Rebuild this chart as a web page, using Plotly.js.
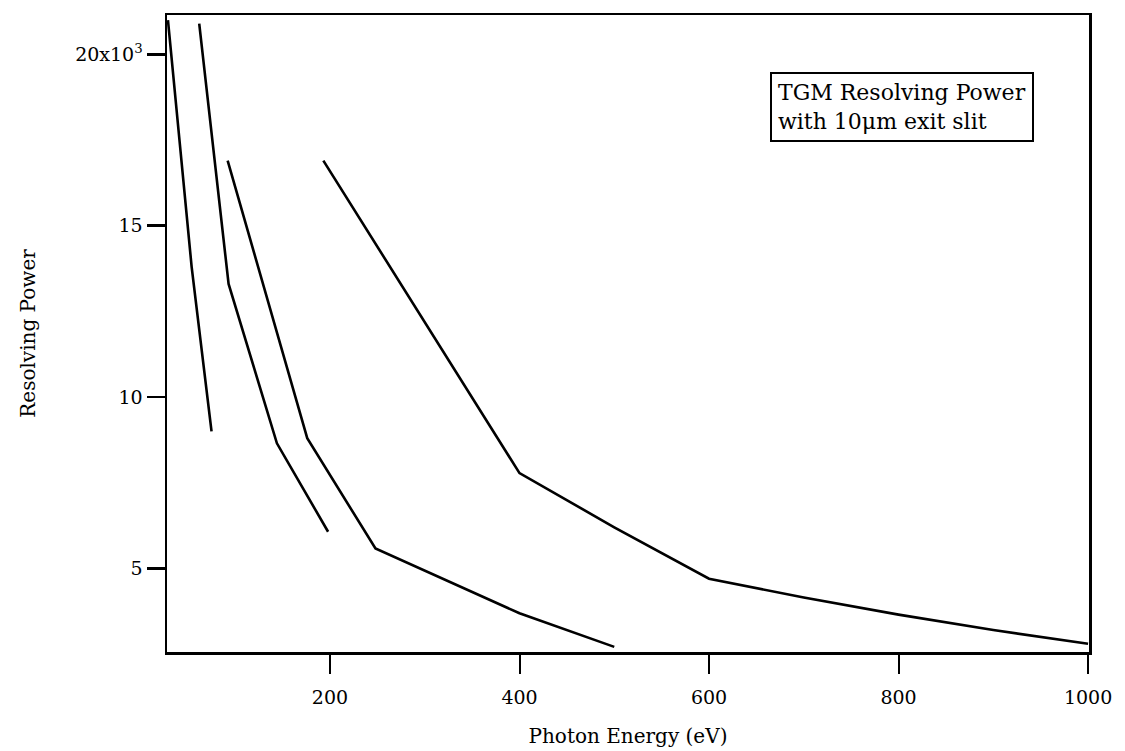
<!DOCTYPE html>
<html>
<head>
<meta charset="utf-8">
<script src="https://cdn.plot.ly/plotly-3.0.1.min.js"></script>
<style>html,body{margin:0;padding:0;background:#fff;}#chart{width:1125px;height:751px;}</style>
</head>
<body>
<div id="chart"></div>
<script>
// Photon energy (eV) and resolving power for the four curves
const energyA = [29, 54, 75];
const powerA  = [21000, 13800, 9000];
const energyB = [62, 93, 144, 198];
const powerB  = [20900, 13300, 8650, 6070];
const energyC = [92, 176, 248, 400, 500];
const powerC  = [16900, 8800, 5580, 3690, 2710];
const energyD = [193, 400, 500, 600, 700, 800, 900, 1000];
const powerD  = [16900, 7780, 6200, 4700, 4150, 3650, 3200, 2800];

const yTickVals = [5000, 10000, 15000, 20000];
const yTickText = ["5", "10", "15", "20x10<sup>3</sup>"];
const xTickVals = [200, 400, 600, 800, 1000];

const font = "DejaVu Serif, Liberation Serif, serif";
const lineStyle = {color: "#000", width: 2.6};

const traces = [
  {x: energyA, y: powerA}, {x: energyB, y: powerB},
  {x: energyC, y: powerC}, {x: energyD, y: powerD}
].map(t => Object.assign(t, {type: "scatter", mode: "lines", line: lineStyle, showlegend: false, hoverinfo: "skip"}));

const layout = {
  width: 1125, height: 751,
  paper_bgcolor: "#fff", plot_bgcolor: "#fff",
  margin: {l: 167, r: 36, t: 15, b: 99},
  font: {family: font, color: "#000", size: 20},
  xaxis: {
    range: [28, 1001], tickvals: xTickVals, ticks: "outside", ticklen: 19, tickwidth: 2,
    tickcolor: "#000", showline: true, linewidth: 2.5, linecolor: "#000", mirror: true,
    showgrid: false, zeroline: false, tickfont: {family: font, size: 19}, ticklabelstandoff: 8,
    title: {text: "Photon Energy (eV)", font: {family: font, size: 20}, standoff: 22}
  },
  yaxis: {
    range: [2560, 21150], tickvals: yTickVals, ticktext: yTickText, ticks: "outside", ticklen: 18, tickwidth: 2.5,
    tickcolor: "#000", showline: true, linewidth: 2.5, linecolor: "#000", mirror: true,
    showgrid: false, zeroline: false, tickfont: {family: font, size: 19},
    title: {text: "Resolving Power", font: {family: font, size: 20}, standoff: 34}
  },
  annotations: [{
    xref: "paper", yref: "paper", x: (770 - 167) / 922, y: 1 - (72 - 15) / 637,
    xanchor: "left", yanchor: "top", align: "left", showarrow: false,
    text: "TGM Resolving Power<br>with 10μm exit slit",
    font: {family: font, size: 22, color: "#000"},
    bordercolor: "#000", borderwidth: 2, borderpad: 6, bgcolor: "#fff"
  }]
};

Plotly.newPlot("chart", traces, layout, {displayModeBar: false, staticPlot: true});
</script>
</body>
</html>
